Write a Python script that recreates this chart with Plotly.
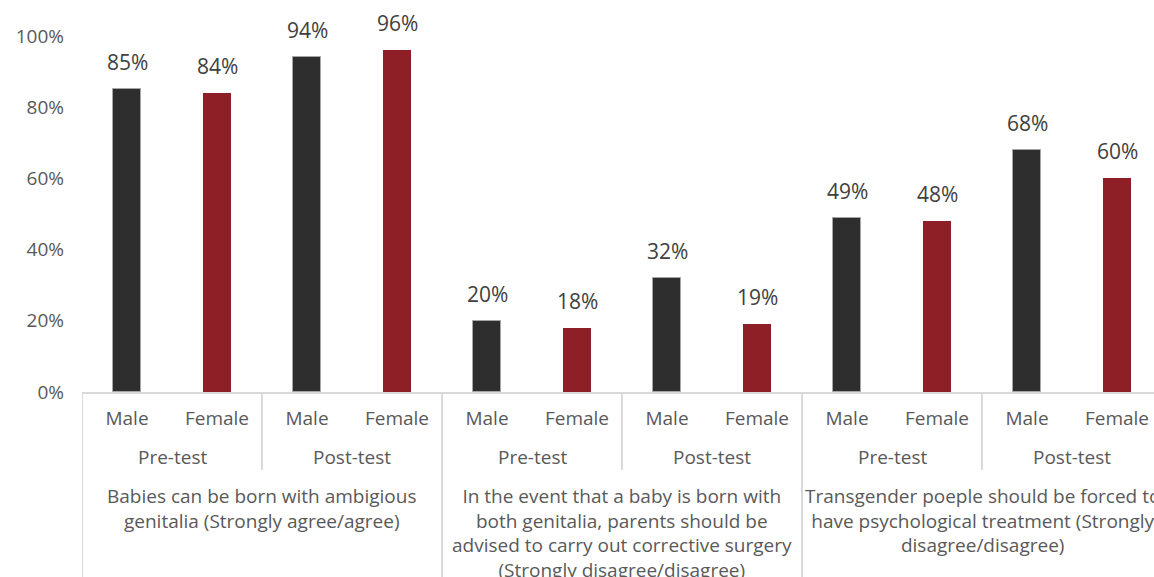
import plotly.graph_objects as go

# Survey results by question, test phase and gender
questions = [
    "Babies can be born with ambigious<br>genitalia (Strongly agree/agree)",
    "In the event that a baby is born with<br>both genitalia, parents should be<br>advised to carry out corrective surgery<br>(Strongly disagree/disagree)",
    "Transgender poeple should be forced to<br>have psychological treatment (Strongly<br>disagree/disagree)",
]
phases = ["Pre-test", "Post-test"]
genders = ["Male", "Female"]

male_values = [85, 94, 20, 32, 49, 68]
female_values = [84, 96, 18, 19, 48, 60]

male_color = "#2e2e2e"
female_color = "#8f1f27"
text_color = "#595959"
label_color = "#404040"
line_color = "#d9d9d9"
font_family = "Open Sans"

n_groups = len(male_values)  # question x phase combinations
male_x = [2 * i for i in range(n_groups)]
female_x = [2 * i + 1 for i in range(n_groups)]

fig = go.Figure()
fig.add_trace(go.Bar(
    x=male_x, y=male_values, name="Male", width=0.31,
    marker=dict(color=male_color, line=dict(color="#a6a6a6", width=1)),
    hoverinfo="y",
))
fig.add_trace(go.Bar(
    x=female_x, y=female_values, name="Female", width=0.31,
    marker=dict(color=female_color, line=dict(width=0)),
    hoverinfo="y",
))

annotations = []
# value labels above the bars
for xs, vals in ((male_x, male_values), (female_x, female_values)):
    for x, v in zip(xs, vals):
        annotations.append(dict(
            x=x, y=v, xref="x", yref="y", text=f"{v}%", showarrow=False,
            yanchor="bottom", yshift=11,
            font=dict(family=font_family, size=21, color=label_color),
        ))

# phase labels (second level of the category axis)
for i in range(n_groups):
    annotations.append(dict(
        x=2 * i + 0.5, y=-0.183, xref="x", yref="paper",
        text=phases[i % 2], showarrow=False, yanchor="middle",
        font=dict(family=font_family, size=19, color=text_color),
    ))

# question labels (third level of the category axis)
for q, text in enumerate(questions):
    annotations.append(dict(
        x=4 * q + 1.5, y=-0.250, xref="x", yref="paper",
        text=text, showarrow=False, yanchor="top", align="center",
        font=dict(family=font_family, size=19, color=text_color),
    ))

shapes = []
# separators between phases (short) and between questions (long)
for b in range(0, 2 * n_groups, 2):
    boundary = b - 0.5
    long_line = (b % 4 == 0)
    shapes.append(dict(
        type="line", xref="x", yref="paper",
        x0=boundary, x1=boundary, y0=0, y1=-0.56 if long_line else -0.219,
        line=dict(color=line_color, width=2),
    ))

fig.update_layout(
    width=1154, height=577,
    margin=dict(l=82, r=0, t=36, b=185),
    paper_bgcolor="white", plot_bgcolor="white",
    showlegend=False, bargap=0,
    annotations=annotations, shapes=shapes,
    font=dict(family=font_family, color=text_color),
    xaxis=dict(
        range=[-0.5, 11.5 - 8 / 90],
        tickmode="array",
        tickvals=male_x + female_x,
        ticktext=[genders[0]] * n_groups + [genders[1]] * n_groups,
        tickfont=dict(family=font_family, size=19, color=text_color),
        ticks="", showgrid=False, zeroline=False,
        showline=True, linecolor=line_color, linewidth=2,
        ticklabelstandoff=8,
    ),
    yaxis=dict(
        range=[0, 100],
        tickvals=[0, 20, 40, 60, 80, 100],
        ticktext=["0%", "20%", "40%", "60%", "80%", "100%"],
        tickfont=dict(family=font_family, size=19, color=text_color),
        showgrid=False, zeroline=False, showline=False, ticks="",
        ticklabelstandoff=17,
    ),
)

fig.write_html("out.html")
